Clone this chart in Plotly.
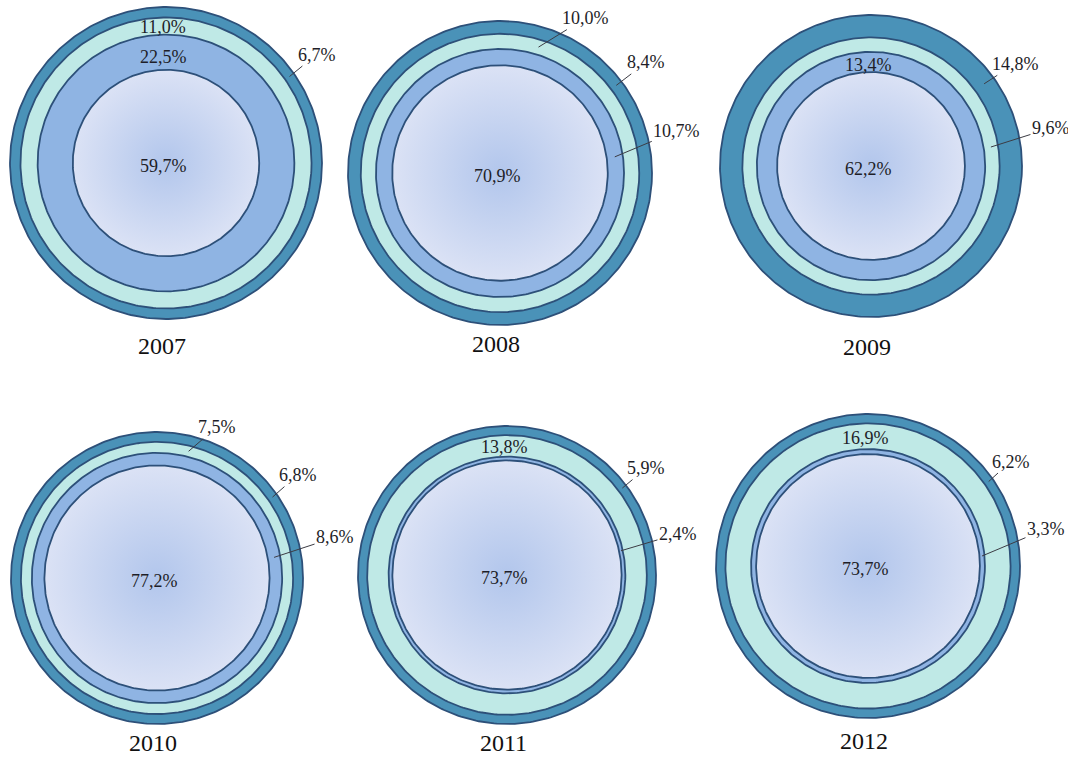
import numpy as np
import plotly.graph_objects as go

# ---------------- data ----------------
years = ["2007", "2008", "2009", "2010", "2011", "2012"]
core = [59.7, 70.9, 62.2, 77.2, 73.7, 73.7]          # inner circle
ring_mid = [22.5, 10.7, 13.4, 8.6, 2.4, 3.3]          # medium-blue ring
ring_light = [11.0, 10.0, 9.6, 7.5, 13.8, 16.9]       # light cyan ring
ring_outer = [6.7, 8.4, 14.8, 6.8, 5.9, 6.2]          # dark outer ring

# ---------------- layout (positions / styles) ----------------
W, H = 1068, 758
centers = [(166, 163), (500, 173), (871, 166), (157, 578), (507, 575), (868, 566)]
radii_px = [156, 152, 151, 146, 149, 152]
year_y = [346, 344, 347, 743, 743, 741]

# label placement per ring: ("top", pixel shift down) inside at top, or ("call", angle_deg, ax, ay)
placement = [
    {"mid": ("top", 5), "light": ("top", 1), "outer": ("call", 35, 27, -22)},
    {"mid": ("call", 8, 62, -26), "light": ("call", 73, 47, -29), "outer": ("call", 37, 30, -23)},
    {"mid": ("top", 3), "light": ("call", 9, 60, -19), "outer": ("call", 36, 31, -20)},
    {"mid": ("call", 10, 61, -20), "light": ("call", 76, 28, -24), "outer": ("call", 35, 25, -22)},
    {"mid": ("call", 12, 57, -17), "light": ("top", 1), "outer": ("call", 37, 24, -20)},
    {"mid": ("call", 5, 64, -27), "light": ("top", 2), "outer": ("call", 35, 22, -20)},
]

C_OUTER = "#4a92b8"
C_LIGHT = "#bfe9e6"
C_MID = "#8fb4e3"
C_LINE = "#2d5079"
TXT = "#1e1e28"
FONT = "Liberation Serif, Times New Roman, serif"

theta = np.linspace(0, 2 * np.pi, 361)


def fmt(v):
    return f"{v:.1f}".replace(".", ",") + "%"


fig = go.Figure()
annotations = []

for i, yr in enumerate(years):
    cx, cy = centers[i]
    R = radii_px[i]
    vals = [core[i], ring_mid[i], ring_light[i], ring_outer[i]]
    total = sum(vals)
    cum = np.cumsum(vals) / total          # outer radius fraction of each band
    inner = np.concatenate([[0.0], cum[:-1]])
    keys = ["core", "mid", "light", "outer"]
    colors = {"mid": C_MID, "light": C_LIGHT, "outer": C_OUTER}

    # draw outermost first
    for k in [3, 2, 1, 0]:
        r = cum[k] * R
        xs = cx + r * np.cos(theta)
        ys = cy - r * np.sin(theta)
        kw = dict(x=xs, y=ys, mode="lines", fill="toself",
                  line=dict(color=C_LINE, width=1.8),
                  hoverinfo="skip", showlegend=False)
        if k == 0:
            kw["fillcolor"] = "#cdd8f1"
            kw["fillgradient"] = dict(type="radial",
                                      colorscale=[[0, "#b2c6ec"], [1, "#dbe2f5"]])
        else:
            kw["fillcolor"] = colors[keys[k]]
        fig.add_trace(go.Scatter(**kw))

    # core label
    annotations.append(dict(x=cx - 3, y=cy + 3, text=fmt(vals[0]), showarrow=False,
                            font=dict(family=FONT, size=18, color=TXT)))
    # ring labels
    for k in [1, 2, 3]:
        p = placement[i][keys[k]]
        rm = (inner[k] + cum[k]) / 2 * R
        if p[0] == "top":
            annotations.append(dict(x=cx - 3, y=cy - rm, yshift=-p[1], text=fmt(vals[k]),
                                    showarrow=False,
                                    font=dict(family=FONT, size=18, color=TXT)))
        else:
            ang = np.deg2rad(p[1])
            annotations.append(dict(x=cx + rm * np.cos(ang), y=cy - rm * np.sin(ang),
                                    text=fmt(vals[k]), showarrow=True, arrowhead=0,
                                    arrowwidth=1, arrowcolor="#3c3c44", standoff=0,
                                    ax=p[2], ay=p[3],
                                    font=dict(family=FONT, size=18, color=TXT)))
    # year label
    annotations.append(dict(x=cx - 4, y=year_y[i], text=yr, showarrow=False,
                            font=dict(family=FONT, size=24, color="#111111")))

fig.update_layout(
    width=W, height=H,
    margin=dict(l=0, r=0, t=0, b=0),
    paper_bgcolor="white", plot_bgcolor="white",
    xaxis=dict(range=[0, W], visible=False, fixedrange=True),
    yaxis=dict(range=[H, 0], visible=False, fixedrange=True),
    annotations=annotations,
    hovermode=False,
)

fig.write_html("out.html", config={"displayModeBar": False},
               post_script="document.body.style.margin='0';")
